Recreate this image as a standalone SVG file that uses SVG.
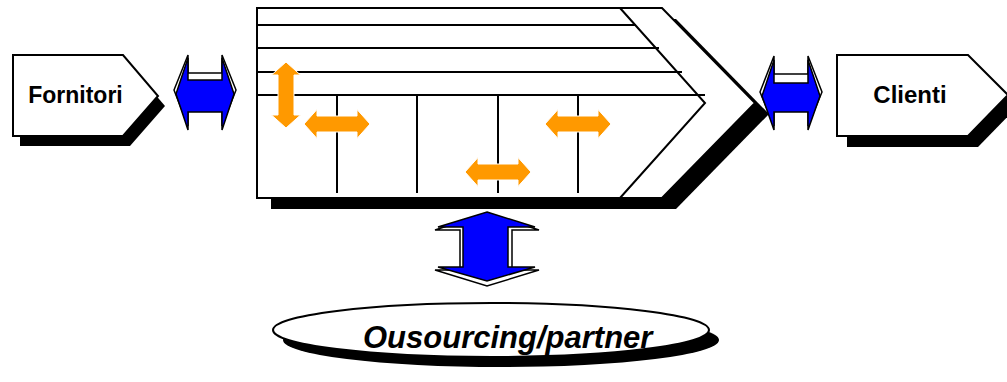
<svg xmlns="http://www.w3.org/2000/svg" width="1007" height="382" viewBox="0 0 1007 382">
  <style>
    .shadow { fill: #000; stroke: none; }
    .box { fill: #fff; stroke: #000; stroke-width: 2; stroke-linejoin: miter; }
    .line { stroke: #000; stroke-width: 2; fill: none; }
    .label { font-family: "Liberation Sans", Arial, sans-serif; font-weight: bold; fill: #000; }
    .blue { fill: #0000ff; stroke: #000; stroke-width: 1.5; stroke-linejoin: miter; }
    .back { fill: #fff; stroke: #000; stroke-width: 1.5; stroke-linejoin: miter; }
    .orange { fill: #ff9900; stroke: #fff; stroke-width: 1; }
  </style>
  <defs>
    <!-- horizontal double-headed orange arrow centred on the origin -->
    <polygon id="oarrow" points="-33,0 -20,-14.5 -20,-8 20,-8 20,-14.5 33,0 20,14.5 20,8 -20,8 -20,14.5"/>
  </defs>

  <!-- Fornitori -->
  <g id="fornitori">
    <polygon class="shadow" points="20,65 130,65 165,106 130,146 20,146"/>
    <polygon class="box" points="13,55 123,55 158,96 123,136 13,136"/>
    <text class="label" x="75.5" y="103" font-size="23" text-anchor="middle">Fornitori</text>
  </g>

  <!-- value chain -->
  <g id="catena">
    <polygon class="shadow" points="271,19 676,19 769,114 676,209 271,209"/>
    <polygon class="box" points="257,8 662,8 755,103 662,198 257,198"/>
    <polyline class="line" points="620,8 705,103 620,198"/>
    <line class="line" x1="257" y1="25" x2="636" y2="25"/>
    <line class="line" x1="257" y1="48" x2="659" y2="48"/>
    <line class="line" x1="257" y1="72" x2="682" y2="72"/>
    <line class="line" x1="257" y1="95" x2="705" y2="95"/>
    <line class="line" x1="337" y1="95" x2="337" y2="193"/>
    <line class="line" x1="417" y1="95" x2="417" y2="193"/>
    <line class="line" x1="498" y1="95" x2="498" y2="193"/>
    <line class="line" x1="578" y1="95" x2="578" y2="193"/>
    <use href="#oarrow" class="orange" transform="translate(286,95) rotate(90)"/>
    <use href="#oarrow" class="orange" transform="translate(337,124)"/>
    <use href="#oarrow" class="orange" transform="translate(498,172)"/>
    <use href="#oarrow" class="orange" transform="translate(578,124)"/>
  </g>

  <!-- Clienti -->
  <g id="clienti">
    <polygon class="shadow" points="847,66 978,66 1018,106 978,147 847,147"/>
    <polygon class="box" points="837,55 968,55 1008,95 968,136 837,136"/>
    <text class="label" x="910" y="103" font-size="24" text-anchor="middle">Clienti</text>
  </g>

  <!-- Outsourcing -->
  <g id="outsourcing">
    <ellipse class="shadow" cx="501" cy="340" rx="218" ry="27"/>
    <ellipse class="box" cx="491" cy="330" rx="218" ry="27"/>
    <text class="label" x="363" y="348" font-size="31" font-style="italic">Ousourcing/partner</text>
  </g>

  <!-- connectors -->
  <g id="connettori">
    <g id="freccia-fornitori">
      <polygon class="back" points="174,90 188,55 188,73 222,73 222,55 236,90 222,126 222,106 188,106 188,126"/>
      <polygon class="blue" points="176,94 188,58 188,80 222,80 222,58 234,94 222,130 222,112 188,112 188,130"/>
    </g>
    <g id="freccia-clienti">
      <polygon class="back" points="760,92 774,56 774,74 808,74 808,56 822,92 808,126 808,106 774,106 774,126"/>
      <polygon class="blue" points="762,96 774,60 774,83 808,83 808,60 820,96 808,130 808,112 774,112 774,130"/>
    </g>
    <g id="freccia-outsourcing">
      <polygon class="back" points="487,213 539,230 512,230 512,270 539,270 487,286 435,270 460,270 460,230 435,230"/>
      <polygon class="blue" points="487,212 535,227 508,227 508,267 535,267 487,281 438,267 463,267 463,227 438,227"/>
    </g>
  </g>
</svg>
